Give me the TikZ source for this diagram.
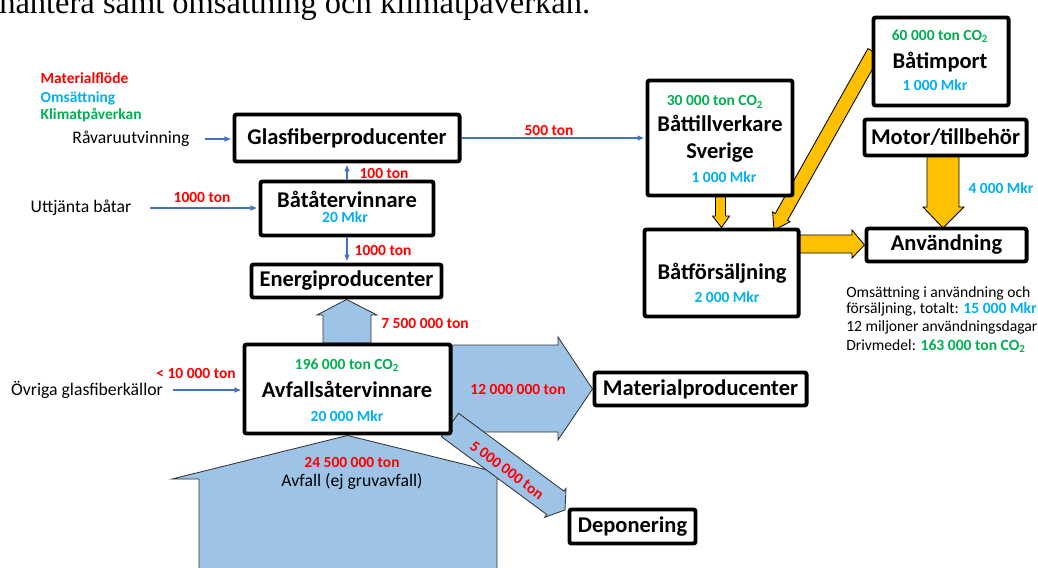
\documentclass[tikz,border=0pt]{standalone}
\usepackage{fontspec}
\setmainfont{Carlito}
\newfontfamily\headfont{Liberation Serif}
\usetikzlibrary{arrows.meta}
\definecolor{matred}{RGB}{255,0,0}
\definecolor{omsblue}{RGB}{0,176,240}
\definecolor{klimgreen}{RGB}{0,176,80}
\definecolor{flowblue}{RGB}{157,195,230}
\definecolor{lineblue}{RGB}{68,114,196}
\definecolor{boatorange}{RGB}{255,192,0}
\pgfdeclarelayer{bg}
\pgfsetlayers{bg,main}
\newcommand{\cotwo}{CO\textsubscript{2}}

\begin{document}
\begin{tikzpicture}[x=0.025cm, y=-0.025cm,
    box/.style = {draw, line width=2.8pt, rounded corners=1.5pt, fill=white, inner sep=0pt, font=\fontsize{16}{19}\selectfont\bfseries},
    title/.style = {inner sep=0pt, font=\fontsize{16}{19}\selectfont\bfseries},
    val/.style = {inner sep=1pt, font=\fontsize{11}{13}\selectfont\bfseries},
    txt/.style = {inner sep=1pt, font=\fontsize{12.6}{15}\selectfont},
    usetxt/.style = {anchor=west, inner sep=0pt, font=\fontsize{11.1}{13}\selectfont},
    feed/.style = {draw=lineblue, line width=0.8pt, shorten >=1.2pt, -{Triangle[length=4.5pt,width=3.5pt]}},
    blueflow/.style = {draw=black!80, line width=0.6pt, fill=flowblue},
    boatflow/.style = {draw=black, line width=0.6pt, fill=boatorange}]
    \useasboundingbox (0,0) rectangle (1038,567);

    \node[anchor=base west, inner sep=0pt, font=\headfont\fontsize{23.1}{27}\selectfont] (head) at (-1,13) {hantera samt omsättning och klimatpåverkan.};

    \node[val, anchor=west, text=matred] (legmat) at (39,78) {Materialflöde};
    \node[val, anchor=west, text=omsblue] (legoms) at (39,98) {Omsättning};
    \node[val, anchor=west, text=klimgreen] (legklim) at (39,115) {Klimatpåverkan};

    \node[box, minimum width=5.625cm, minimum height=1.175cm] (glas) at (347,138) {Glasfiberproducenter};
    \node[box, minimum width=4.325cm, minimum height=1.35cm] (batat) at (347,208.5) {};
    \node[box, minimum width=4.75cm, minimum height=0.825cm] (energi) at (346.5,281) {Energiproducenter};
    \node[box, minimum width=5.15cm, minimum height=2.225cm] (avfall) at (347.5,389) {};
    \node[box, minimum width=5.3cm, minimum height=0.825cm] (material) at (700.5,389) {Materialproducenter};
    \node[box, minimum width=3.15cm, minimum height=0.85cm] (depon) at (632.5,526.5) {Deponering};
    \node[box, minimum width=3.625cm, minimum height=2.875cm] (battill) at (720,138) {};
    \node[box, minimum width=3.85cm, minimum height=2.175cm] (batfor) at (721.5,273) {};
    \node[box, minimum width=3.375cm, minimum height=2.2cm] (batimp) at (941,61.5) {};
    \node[box, minimum width=4.05cm, minimum height=0.9cm] (motor) at (945.5,137.5) {Motor/tillbehör};
    \node[box, minimum width=4.0cm, minimum height=0.825cm] (anv) at (946.5,245) {Användning};

    \node[title] (batattxt) at (347,199) {Båtåtervinnare};
    \node[val, text=omsblue] (batatmkr) at (345,217) {20 Mkr};
    \node[val, text=klimgreen] (avfallco) at (347,365) {196 000 ton \cotwo};
    \node[title] (avfalltxt) at (347,389) {Avfallsåtervinnare};
    \node[val, text=omsblue] (avfallmkr) at (347,416) {20 000 Mkr};
    \node[val, text=klimgreen] (battco) at (715,102) {30 000 ton \cotwo};
    \node[title, align=center] (batttxt) at (720,139) {Båttillverkare\\Sverige};
    \node[val, text=omsblue] (battmkr) at (724,177) {1 000 Mkr};
    \node[title] (batfortxt) at (722,273) {Båtförsäljning};
    \node[val, text=omsblue] (batformkr) at (727,297) {2 000 Mkr};
    \node[val, text=klimgreen] (batimpco) at (940,36) {60 000 ton \cotwo};
    \node[title] (batimptxt) at (940,62) {Båtimport};
    \node[val, text=omsblue] (batimpmkr) at (935,85) {1 000 Mkr};

    \node[txt] (ravara) at (131,139) {Råvaruutvinning};
    \node[txt] (uttjanta) at (81,208) {Uttjänta båtar};
    \node[txt] (ovriga) at (87,390) {Övriga glasfiberkällor};

    \draw[feed, shorten <=9.7pt] (ravara) -- (ravara -| glas.west);
    \draw[feed, shorten <=11.8pt] (uttjanta) -- (uttjanta -| batat.west);
    \draw[feed, shorten <=6pt] (ovriga) -- (ovriga -| avfall.west);
    \draw[feed] (batat) -- (glas);
    \draw[feed] (batat.south) -- (batat.south |- energi.north);
    \draw[feed] (glas) -- (battill);

    \node[val, text=matred] (t100) at (384,173) {100 ton};
    \node[val, text=matred] (t1000a) at (202,197) {1000 ton};
    \node[val, text=matred] (t1000b) at (383,250) {1000 ton};
    \node[val, text=matred] (t500) at (549,130) {500 ton};
    \node[val, text=matred] (t10k) at (196,373) {< 10 000 ton};
    \node[val, text=matred] (t75) at (425,323) {7 500 000 ton};
    \node[val, text=matred] (t12) at (518,389) {12 000 000 ton};
    \node[val, text=matred] (t245) at (352,462) {24 500 000 ton};
    \node[txt] (avfallin) at (352,482) {Avfall (ej gruvavfall)};
    \node[val, text=matred, rotate=-36.5] (t5) at (507,470) {5 000 000 ton};
    \node[val, text=omsblue] (m4000) at (1001,188) {4 000 Mkr};

    \node[usetxt] (use1) at (846,293) {Omsättning i användning och};
    \node[usetxt] (use2) at (846,309.5) {försäljning, totalt: \textcolor{omsblue}{\bfseries 15 000 Mkr}};
    \node[usetxt] (use3) at (846,327) {12 miljoner användningsdagar};
    \node[usetxt] (use4) at (846,346) {Drivmedel: \textcolor{klimgreen}{\bfseries 163 000 ton \cotwo}};

    % block arrows behind the boxes
    \begin{pgfonlayer}{bg}
        \draw[blueflow] (199,600) -- (199,479) -- (172,479) -- (avfall.south) -- (524,479) -- (497,479) -- (497,600) -- cycle;
        \draw[blueflow] (323,343) -- (323,315) -- (317,315) -- (energi.south) -- (377,315) -- (371,315) -- (371,343) -- cycle;
        \draw[blueflow] (445,345) -- (558,345) -- (558,337) -- (material.west) -- (558,440) -- (558,432) -- (445,432) -- cycle;
        \draw[blueflow] (458.6,413.3) -- (563.9,491.1) -- (566,488.3) -- (565,510) -- (544.6,517.3) -- (546.7,514.5) -- (441.4,436.7) -- cycle;
        \draw[boatflow] (715.5,195) -- (715.5,216) -- (712.5,216) -- (batfor.north) -- (729.5,216) -- (725.5,216) -- (725.5,195) -- cycle;
        \draw[boatflow] (867.9,48.6) -- (775.3,213.5) -- (772.6,212) -- (774,230) -- (790.1,221.8) -- (787.5,220.4) -- (880.1,55.4) -- cycle;
        \draw[boatflow] (798,235) -- (852,235) -- (852,230) -- (anv.west) -- (852,258) -- (852,253) -- (798,253) -- cycle;
        \draw[boatflow] (927,155) -- (927,207) -- (923,207) -- (943,228) -- (964,207) -- (959,207) -- (959,155) -- cycle;
    \end{pgfonlayer}
\end{tikzpicture}
\end{document}
